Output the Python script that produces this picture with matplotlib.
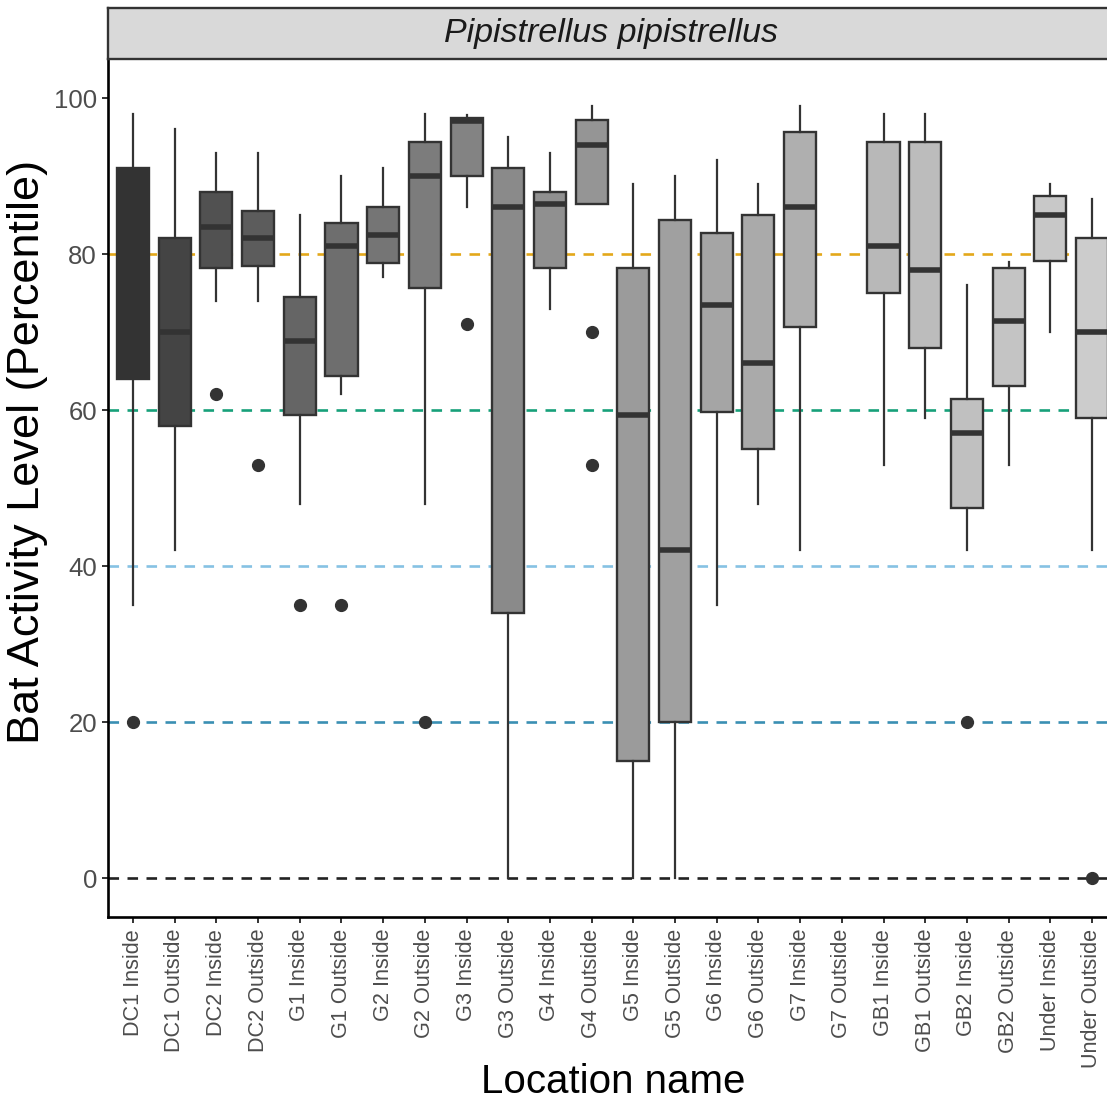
import numpy as np
import matplotlib
matplotlib.use("Agg")
import matplotlib.pyplot as plt

plt.rcParams['font.family'] = ['Liberation Sans', 'DejaVu Sans']

# Location names (x axis order)
locations = ["DC1 Inside", "DC1 Outside", "DC2 Inside", "DC2 Outside",
             "G1 Inside", "G1 Outside", "G2 Inside", "G2 Outside",
             "G3 Inside", "G3 Outside", "G4 Inside", "G4 Outside",
             "G5 Inside", "G5 Outside", "G6 Inside", "G6 Outside",
             "G7 Inside", "G7 Outside", "GB1 Inside", "GB1 Outside",
             "GB2 Inside", "GB2 Outside", "Under Inside", "Under Outside"]

# Box statistics (None = no data for that location)
whisker_low = [35, 42, 74, 74, 48, 62, 77, 48, 86, 0, 73, 86.4,
               0, 0, 35, 48, 42, None, 53, 59, 42, 53, 70, 42]
q1 = [64, 58, 78.2, 78.4, 59.4, 64.4, 78.9, 75.7, 90, 34, 78.2, 86.4,
      15, 20, 59.7, 55, 70.7, None, 75, 68, 47.4, 63.1, 79.1, 59]
median = [80, 70, 83.4, 82, 68.9, 81, 82.5, 90, 97, 86, 86.4, 94,
          59.4, 42, 73.5, 66, 86, None, 81, 78, 57, 71.4, 85, 70]
q3 = [91, 82, 88, 85.5, 74.5, 84, 86, 94.4, 97.5, 91, 88, 97.2,
      78.2, 84.4, 82.7, 85, 95.7, None, 94.4, 94.4, 61.4, 78.2, 87.4, 82]
whisker_high = [98, 96, 93, 93, 85, 90, 91, 98, 97.8, 95, 93, 99,
                89, 90, 92, 89, 99, None, 98, 98, 76, 79, 89, 87]
outliers = [[20], [], [62], [53], [35], [35], [], [20], [71], [], [], [70, 53],
            [], [], [], [], [], [], [], [], [20], [], [], [0]]

# Reference lines
ref_levels = [0, 20, 40, 60, 80]
ref_colors = ["#222222", "#3a8fb3", "#86c2e3", "#17a07a", "#e3a81a"]

W, H = 1107, 1115
fig = plt.figure(figsize=(W / 100, H / 100), dpi=100)

ax_left = 108 / W
ax_bottom = (H - 917) / H
ax_top = (H - 59) / H
ax = fig.add_axes([ax_left, ax_bottom, 1.0 - ax_left, ax_top - ax_bottom])

# grey fill, as grey.colors(start=0.2, end=0.8)
n = len(locations)
g = (np.linspace(0.2 ** 2.2, 0.8 ** 2.2, n)) ** (1 / 2.2)
fills = [(v, v, v) for v in g]

for lvl, col in zip(ref_levels, ref_colors):
    ax.axhline(lvl, color=col, lw=1.9, linestyle=(0, (4, 3.2)), zorder=1)

stats, pos, cols = [], [], []
for i, name in enumerate(locations):
    if median[i] is None:
        continue
    stats.append(dict(med=median[i], q1=q1[i], q3=q3[i],
                      whislo=whisker_low[i], whishi=whisker_high[i],
                      fliers=outliers[i], label=name))
    pos.append(i)
    cols.append(fills[i])

edge = "#333333"
bp = ax.bxp(stats, positions=pos, widths=0.77, patch_artist=True,
            showcaps=False, showfliers=True,
            boxprops=dict(edgecolor=edge, linewidth=1.7),
            whiskerprops=dict(color=edge, linewidth=1.6),
            medianprops=dict(color=edge, linewidth=4, solid_capstyle='butt'),
            flierprops=dict(marker='o', markersize=8.5, markerfacecolor=edge,
                            markeredgecolor=edge, linestyle='none'))
for patch, c in zip(bp['boxes'], cols):
    patch.set_facecolor(c)
for art in bp['boxes'] + bp['whiskers'] + bp['medians'] + bp['fliers']:
    art.set_zorder(3)

ax.set_xlim(-0.6, 23.36)
ax.set_ylim(-5, 105)
ax.set_xticks(range(n))
ax.set_xticklabels(locations, rotation=90, fontsize=15.6, color="#4d4d4d")
ax.set_yticks([0, 20, 40, 60, 80, 100])
ax.set_yticklabels(["0", "20", "40", "60", "80", "100"], fontsize=18.5, color="#4d4d4d")
ax.tick_params(axis='both', length=4.5, width=1.4, color="#333333", pad=3.5)
ax.tick_params(axis='x', pad=4)

for s in ['top', 'right']:
    ax.spines[s].set_visible(False)
for s in ['left', 'bottom']:
    ax.spines[s].set_linewidth(1.9)
    ax.spines[s].set_color("black")

# facet strip
strip_bottom = ax_top
strip_top = (H - 8) / H
sax = fig.add_axes([ax_left, strip_bottom, 1.0, strip_top - strip_bottom])
sax.set_xticks([])
sax.set_yticks([])
sax.set_facecolor("#d9d9d9")
for s in sax.spines.values():
    s.set_color("#333333")
    s.set_linewidth(1.7)
fig.text(611.5 / W, (strip_bottom + strip_top) / 2, "Pipistrellus pipistrellus",
         fontsize=24.5, style='italic', color="#1a1a1a", ha='center', va='center')

fig.text(28 / W, (H - 452) / H, "Bat Activity Level (Percentile)", fontsize=32.5,
         rotation=90, ha='center', va='center', color="black")
fig.text(613 / W, (H - 1093) / H, "Location name", fontsize=29,
         ha='center', va='baseline', color="black")

fig.savefig("out.png", dpi=100)
